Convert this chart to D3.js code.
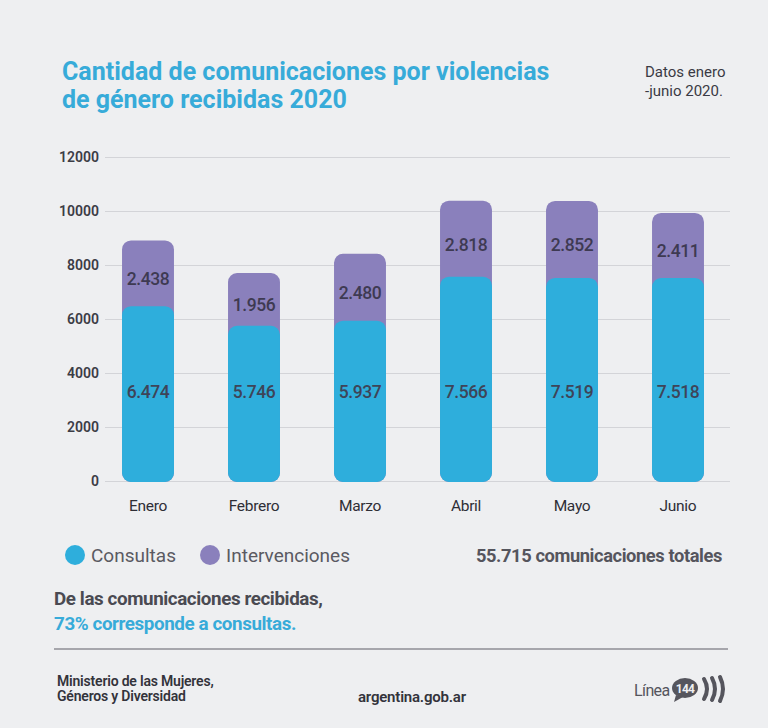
<!DOCTYPE html>
<html><head><meta charset="utf-8">
<script src="https://cdn.jsdelivr.net/npm/d3@7/dist/d3.min.js"></script>
<style>
html,body{margin:0;padding:0;background:#eeeff1;}
svg{display:block;font-family:Roboto,"Noto Sans",sans-serif;}
</style></head><body>
<svg id="c" width="768" height="728"></svg>
<script>
const months = ["Enero","Febrero","Marzo","Abril","Mayo","Junio"];
const consultas = [6474,5746,5937,7566,7519,7518];
const intervenciones = [2438,1956,2480,2818,2852,2411];
const yTicks = [0,2000,4000,6000,8000,10000,12000];
const seriesNames = ["Consultas","Intervenciones"];
const colors = ["#2eaedc","#8a80bc"];

const fmt = v => d3.format(",")(v).replace(/,/g,".");
const svg = d3.select("#c");
svg.append("rect").attr("width",768).attr("height",728).attr("fill","#eeeff1");

const x = d3.scaleBand().domain(months).range([95,731]).paddingInner(0.51).paddingOuter(0.255);
const y = d3.scaleLinear().domain([0,12000]).range([481,157]);

// title
const t = svg.append("text").attr("fill","#37abd9").attr("font-weight",700).attr("font-size",25).attr("letter-spacing","0");
t.append("tspan").attr("x",62).attr("y",80).text("Cantidad de comunicaciones por violencias");
t.append("tspan").attr("x",62).attr("y",108).text("de género recibidas 2020");
const dt = svg.append("text").attr("fill","#3a3a44").attr("font-size",15).attr("letter-spacing","0");
dt.append("tspan").attr("x",645).attr("y",77).text("Datos enero");
dt.append("tspan").attr("x",645).attr("y",96).text("-junio 2020.");

// grid + y axis
const ya = svg.append("g").attr("transform","translate(105,0)")
  .call(d3.axisLeft(y).tickValues(yTicks).tickSize(-625).tickFormat(d3.format("d")));
ya.select(".domain").remove();
ya.selectAll(".tick line").attr("stroke","#d3d4d8").attr("stroke-width",1.2);
ya.selectAll(".tick text").attr("x",-6).attr("fill","#3c3c46").attr("font-size",14).attr("font-weight",600)
  .attr("font-family","Roboto,sans-serif");

// bars
const data = months.map((m,i)=>({m,c:consultas[i],iv:intervenciones[i]}));
const g = svg.append("g");
const bw = x.bandwidth();
g.selectAll(".p").data(data).join("rect")
  .attr("x",d=>x(d.m)).attr("width",bw)
  .attr("y",d=>y(d.c+d.iv)).attr("height",d=>y(0)+1-y(d.c+d.iv))
  .attr("rx",9).attr("fill",colors[1]);
g.selectAll(".b").data(data).join("rect")
  .attr("x",d=>x(d.m)).attr("width",bw)
  .attr("y",d=>y(d.c)).attr("height",d=>y(0)+1-y(d.c))
  .attr("rx",9).attr("fill",colors[0]);

// value labels
g.selectAll(".lc").data(data).join("text")
  .attr("x",d=>x(d.m)+bw/2).attr("y",392).attr("text-anchor","middle")
  .attr("dominant-baseline","central").attr("fill","#3e4458").attr("font-size",17.5).attr("font-weight",500).attr("letter-spacing","-0.4")
  .text(d=>fmt(d.c));
g.selectAll(".li").data(data).join("text")
  .attr("x",d=>x(d.m)+bw/2).attr("y",d=>y(d.c+d.iv/2)+6).attr("text-anchor","middle")
  .attr("dominant-baseline","central").attr("fill","#3e3a52").attr("font-size",17.5).attr("font-weight",500).attr("letter-spacing","-0.4")
  .text(d=>fmt(d.iv));

// x axis labels
const xa = svg.append("g").attr("transform","translate(0,482)").call(d3.axisBottom(x).tickSize(0).tickPadding(18));
xa.select(".domain").remove();
xa.selectAll(".tick text").attr("fill","#2e2e36").attr("font-size",15.5).attr("font-family","Roboto,sans-serif").attr("letter-spacing","-0.3");

// legend
const lg = svg.append("g");
const lx = [75,210];
seriesNames.forEach((s,i)=>{
  lg.append("circle").attr("cx",lx[i]).attr("cy",555).attr("r",10).attr("fill",colors[i]);
  lg.append("text").attr("x",lx[i]+16).attr("y",562).attr("fill","#5a5a62").attr("font-size",19).attr("letter-spacing","0").text(s);
});
svg.append("text").attr("x",722).attr("y",562).attr("text-anchor","end").attr("fill","#55555d")
  .attr("font-size",18.3).attr("font-weight",700).attr("letter-spacing","-0.4").text(fmt(55715)+" comunicaciones totales");

svg.append("text").attr("x",54).attr("y",605).attr("fill","#4a4a52").attr("font-size",18.8).attr("font-weight",700).attr("letter-spacing","-0.4")
  .text("De las comunicaciones recibidas,");
svg.append("text").attr("x",54).attr("y",630).attr("fill","#37abd9").attr("font-size",18.8).attr("font-weight",700).attr("letter-spacing","-0.4")
  .text("73% corresponde a consultas.");

svg.append("line").attr("x1",54).attr("x2",728).attr("y1",649).attr("y2",649).attr("stroke","#8e8e94").attr("stroke-width",1.3);

// footer
const ft = svg.append("text").attr("fill","#33333b").attr("font-size",14).attr("font-weight",600).attr("letter-spacing","-0.2");
ft.append("tspan").attr("x",57).attr("y",686).text("Ministerio de las Mujeres,");
ft.append("tspan").attr("x",57).attr("y",701).text("Géneros y Diversidad");
svg.append("text").attr("x",358).attr("y",702).attr("fill","#33333b").attr("font-size",15).attr("font-weight",600).attr("letter-spacing","-0.2").text("argentina.gob.ar");

// logo
const lo = svg.append("g");
lo.append("text").attr("x",634).attr("y",696).attr("fill","#55555d").attr("font-size",16).attr("letter-spacing","-0.6").text("Línea");
lo.append("ellipse").attr("cx",685).attr("cy",688).attr("rx",13).attr("ry",10).attr("fill","#55555d");
lo.append("path").attr("d","M676,695 L674,702 L683,697 Z").attr("fill","#55555d");
lo.append("text").attr("x",685).attr("y",693).attr("text-anchor","middle").attr("fill","#eeeff1").attr("font-size",12).attr("font-weight",700).attr("letter-spacing","-0.8").text("144");
[0,1,2].forEach(i=>{
  lo.append("path").attr("d",`M${704+i*8},${679-i} Q${710+i*8},${689} ${704+i*8},${699+i}`)
    .attr("fill","none").attr("stroke","#55555d").attr("stroke-width",4).attr("stroke-linecap","round");
});
</script></body></html>
